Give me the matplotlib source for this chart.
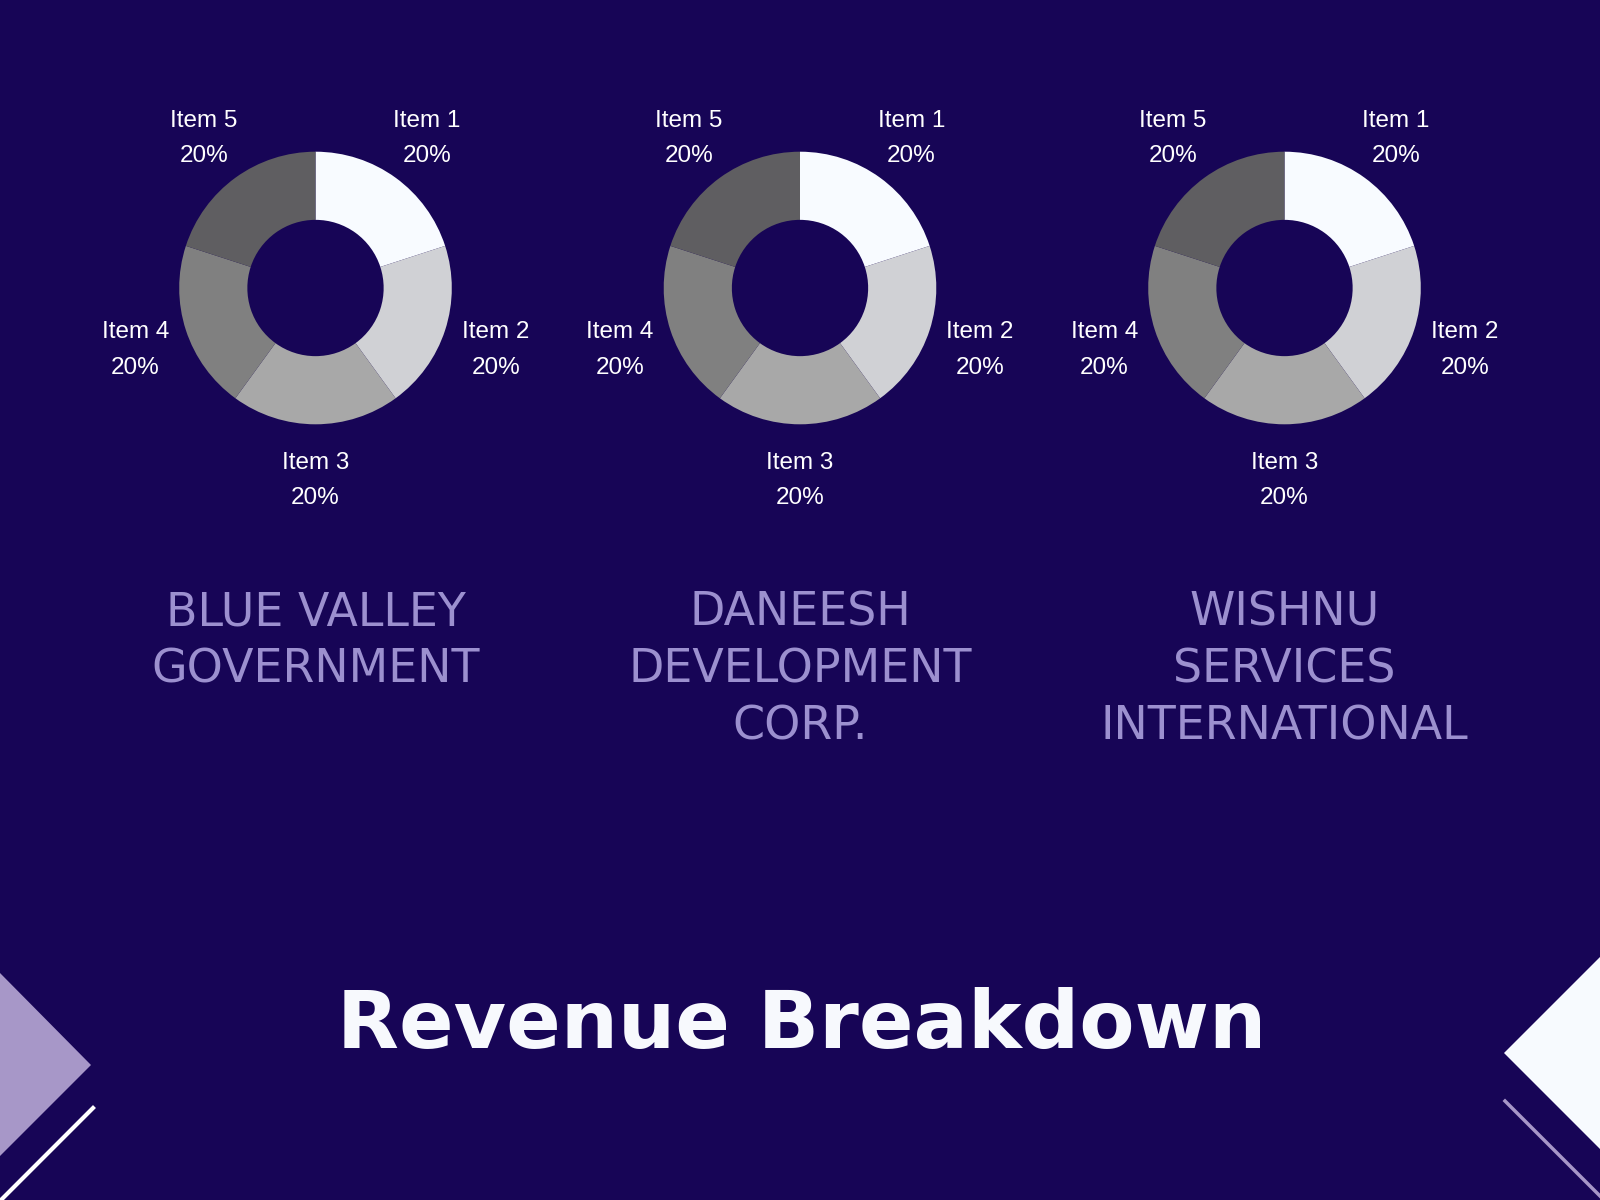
import numpy as np
import matplotlib.pyplot as plt
from matplotlib.patches import Polygon
from matplotlib.lines import Line2D

# data
companies = ['BLUE VALLEY\nGOVERNMENT', 'DANEESH\nDEVELOPMENT\nCORP.', 'WISHNU\nSERVICES\nINTERNATIONAL']
items = ['Item 1', 'Item 2', 'Item 3', 'Item 4', 'Item 5']
shares_blue_valley = [20, 20, 20, 20, 20]
shares_daneesh = [20, 20, 20, 20, 20]
shares_wishnu = [20, 20, 20, 20, 20]
title = 'Revenue Breakdown'

slice_colors = ['#f8fbff', '#d0d1d5', '#a8a8a8', '#808080', '#5f5e61']
bg = '#170556'
lavender = '#9c90cf'

W, H = 1600, 1200
fig = plt.figure(figsize=(16, 12), dpi=100, facecolor=bg)

# pixel helpers (origin top-left)
def fx(x):
    return x / W

def fy(y):
    return 1 - y / H

centers_x = [315.5, 800, 1284.5]
center_y = 288
r_px = 136.3
lim = 1.6
half = r_px * lim

for cx, shares, name in zip(centers_x, [shares_blue_valley, shares_daneesh, shares_wishnu], companies):
    ax = fig.add_axes([fx(cx - half), fy(center_y + half), 2 * half / W, 2 * half / H])
    ax.set_facecolor(bg)
    labels = ['{}\n{:.0f}%'.format(it, v) for it, v in zip(items, shares)]
    wedges, texts = ax.pie(shares, labels=labels, colors=slice_colors, startangle=90,
                           counterclock=False, radius=1, labeldistance=1.39,
                           wedgeprops=dict(width=0.5, linewidth=0),
                           textprops=dict(color='white', fontsize=17.5, family='Liberation Sans'))
    for t in texts:
        t.set_ha('center')
        t.set_va('center')
        t.set_multialignment('center')
        t.set_linespacing(1.78)
        x, y = t.get_position()
        t.set_position((x, y - 0.025))
    ax.set_xlim(-lim, lim)
    ax.set_ylim(-lim, lim)
    ax.axis('off')

    # company name, one line at a time
    for i, line in enumerate(name.split('\n')):
        fig.text(fx(cx), fy(626 + 56.5 * i), line, ha='center', va='baseline',
                 fontsize=33, color=lavender, family='DejaVu Sans')

fig.text(fx(802), fy(1048), title, ha='center', va='baseline', fontsize=58,
         fontweight='bold', color='#f7f9fd', family='DejaVu Sans')

# corner decorations
deco = fig.add_axes([0, 0, 1, 1])
deco.set_xlim(0, W)
deco.set_ylim(H, 0)
deco.axis('off')
deco.patch.set_alpha(0)
deco.add_patch(Polygon([(0, 973), (91, 1065), (0, 1156)], closed=True, color='#a797c8', lw=0))
deco.add_line(Line2D([93, 1], [1108, 1200], color='white', lw=3))
deco.add_patch(Polygon([(W, 957), (1504, 1053), (W, 1149)], closed=True, color='#f7fafe', lw=0))
deco.add_line(Line2D([1505, W], [1101, 1196], color='#a797c8', lw=2.5))

fig.savefig('out.png', dpi=100, facecolor=bg)
